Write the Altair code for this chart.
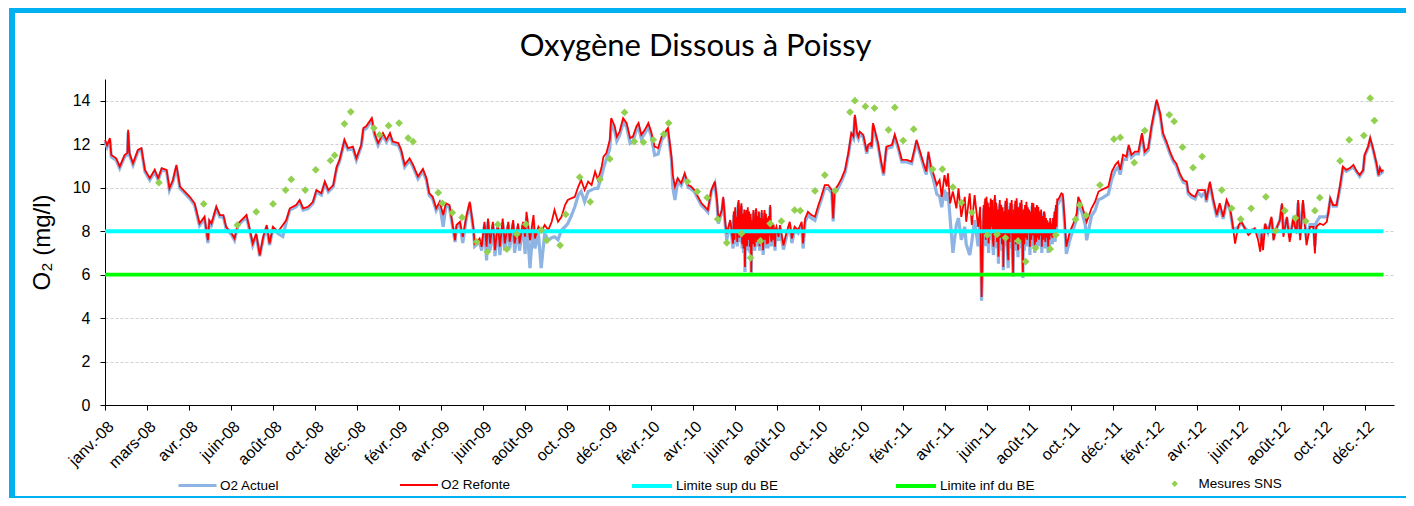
import json
import altair as alt
import pandas as pd

titre = "Oxygène Dissous à Poissy"
titre_y = "O₂ (mg/l)"
debut = "2008-01-01"
fin_axe = "2013-01-15"

# ---- jours depuis le 1er janvier 2008 (relevés journaliers en été 2010 et 2011)
jours_2008_2010 = [
    0, 3, 7, 9, 16, 21, 28, 32, 33, 35,
    40, 47, 52, 57, 64, 71, 76, 81, 88, 92,
    97, 102, 107, 114, 121, 128, 135, 142, 147, 149,
    152, 159, 164, 169, 173, 181, 185, 190, 197, 202,
    207, 211, 216, 221, 226, 231, 235, 240, 247, 254,
    259, 264, 273, 278, 283, 290, 297, 302, 309, 314,
    319, 326, 331, 335, 342, 347, 354, 359, 366,
    369, 373, 381, 385, 390, 397, 402, 407, 411, 419,
    423, 428, 435, 440, 447, 454, 459, 463, 468, 473,
    478, 483, 487, 492, 497, 500, 502, 507, 511, 516,
    521, 526, 528, 533, 535, 538, 542, 545, 547, 550,
    554, 557, 561, 564, 568, 571, 576, 578, 583, 585,
    590, 592, 597, 600, 602, 607, 612, 614, 619, 623,
    628, 633, 638, 642, 647, 652, 657, 661, 666, 671,
    676, 680, 685, 690, 695, 700, 704, 709, 712, 716,
    721, 723, 728,
    731, 735, 740, 745, 750, 754, 759, 762, 766, 771,
    776, 780, 785, 790, 795, 799, 804, 809, 811, 814,
    818, 823, 828, 833, 837, 842, 847, 852, 857, 861,
    866, 871, 874, 876, 881, 883, 886, 888, 893, 897,
]
jours_ete_2010 = list(range(898, 960))
jours_2010_2011 = [
    962, 964, 969, 973, 978, 981, 985, 990, 995, 997,
    1000, 1004, 1009, 1014, 1019, 1023, 1028, 1033, 1038, 1040,
    1042, 1047, 1052, 1057, 1062, 1066, 1069, 1071, 1074, 1076,
    1078, 1083, 1088, 1090, 1093, 1095,
    1097, 1100, 1104, 1109, 1112, 1116, 1124, 1128, 1133, 1138,
    1145, 1152, 1157, 1159, 1164, 1169, 1173, 1176, 1180, 1183,
    1188, 1192, 1195, 1199, 1202, 1204, 1207, 1211, 1216, 1219,
    1223, 1228, 1230, 1235, 1238, 1242, 1247, 1250, 1252, 1254,
]
jours_ete_2011 = list(range(1255, 1362))
jours_2011_2012 = [
    1366, 1368, 1371,
    1373, 1378, 1383, 1388, 1390, 1395, 1400, 1402, 1409, 1414,
    1419, 1423, 1428, 1433, 1438, 1443, 1447, 1450, 1454, 1459,
    1462, 1466, 1471, 1476, 1481, 1485, 1490, 1495, 1502, 1507,
    1511, 1516, 1521, 1526, 1530, 1535, 1540, 1545, 1547, 1552,
    1557, 1561, 1566, 1571, 1573, 1578, 1583, 1588, 1592, 1597,
    1602, 1607, 1611, 1614, 1619, 1623, 1628, 1633, 1638, 1642,
    1647, 1650, 1652, 1654, 1657, 1661, 1666, 1669, 1673, 1678,
    1681, 1683, 1688, 1692, 1697, 1702, 1704, 1707, 1711, 1716,
    1721, 1726, 1728, 1730, 1735, 1740, 1745, 1747, 1750, 1754,
    1759, 1764, 1768, 1773, 1778, 1783, 1788, 1792, 1797, 1799,
    1804, 1807, 1811, 1816, 1819, 1821, 1823, 1826,
]

# ---- O2 Refonte (mg/l)
refonte_2008_2010 = [
    12.2, 11.95, 12.28, 11.5, 11.35, 10.97, 11.5, 11.6, 12.66, 11.58,
    11.12, 11.74, 11.82, 10.82, 10.43, 10.82, 10.43, 10.9, 10.82, 9.97,
    10.35, 11.05, 10.05, 9.82, 9.58, 9.28, 8.35, 8.66, 7.58, 8.5,
    8.35, 9.12, 8.74, 8.74, 8.2, 7.89, 7.66, 8.35, 8.58, 8.74,
    8.05, 7.43, 7.89, 6.89, 7.74, 8.28, 7.43, 8.2, 7.97, 8.28,
    8.51, 9.05, 9.2, 9.43, 9.05, 9.12, 9.35, 9.89, 9.74, 10.28,
    9.89, 10.12, 10.97, 11.28, 12.2, 11.82, 11.89, 11.35, 11.97,
    12.74, 12.82, 13.2, 12.51, 12.05, 12.51, 12.2, 12.51, 12.12, 12.05,
    11.74, 11.05, 11.35, 11.05, 10.51, 10.86, 10.45, 9.75, 9.58, 9.05,
    9.35, 8.74, 9.28, 9.2, 8.2, 7.58, 8.28, 8.43, 7.74, 8.66,
    9.35, 8.2, 7.43, 7.58, 7.66, 7.28, 8.43, 7.28, 8.58, 7.43,
    8.43, 7.12, 8.35, 7.28, 8.58, 7.43, 8.43, 7.51, 8.51, 7.43,
    8.35, 7.43, 8.43, 7.74, 8.89, 7.58, 8.74, 7.66, 8.2, 7.97,
    8.28, 8.05, 8.43, 8.97, 8.43, 8.66, 9.2, 9.43, 9.51, 9.58,
    10.05, 10.35, 9.89, 10.28, 10.12, 10.74, 10.35, 10.9, 11.43, 11.58,
    12.2, 13.2, 12.82,
    12.35, 12.58, 13.2, 12.97, 12.28, 12.35, 12.82, 12.97, 12.43, 12.66,
    12.97, 12.58, 11.89, 11.82, 12.35, 12.51, 12.74, 11.43, 10.58, 10.05,
    10.43, 10.2, 10.66, 10.12, 10.05, 9.89, 9.58, 9.28, 9.12, 8.97,
    9.89, 10.28, 9.43, 8.51, 8.97, 9.58, 8.35, 7.89, 8.51, 7.43,
]
refonte_ete_2010 = [
    8.9, 7.6, 9.1, 7.9, 8.66, 7.5, 9.2, 9.43, 7.7, 8.05,
    9.0, 9.28, 7.4, 8.8, 7.2, 9.0, 6.35, 8.6, 8.97, 7.3,
    9.1, 7.6, 8.9, 7.28, 8.8, 6.12, 8.5, 7.4, 8.97, 7.6,
    7.28, 8.8, 9.05, 7.5, 8.7, 7.58, 8.9, 7.3, 8.6, 7.7,
    8.97, 7.9, 7.12, 8.5, 8.97, 7.6, 8.8, 7.4, 8.6, 7.43,
    8.7, 7.8, 9.2, 7.7, 7.51, 8.4, 7.6, 8.3, 7.8, 7.28,
    8.1, 8.2,
]
refonte_2010_2011 = [
    7.74, 8.28, 7.35, 7.89, 8.43, 7.66, 8.2, 8.05, 8.43, 7.43,
    8.58, 8.89, 8.74, 8.66, 9.2, 9.58, 10.12, 10.12, 9.89, 8.58,
    9.89, 10.12, 10.43, 10.82, 11.66, 12.51, 12.35, 13.35, 12.51, 12.35,
    12.58, 12.43, 11.66, 11.97, 12.05, 11.89,
    12.97, 12.58, 12.05, 11.12, 10.66, 11.89, 11.97, 12.43, 11.89, 11.28,
    11.28, 11.2, 11.89, 12.2, 11.66, 11.12, 10.74, 11.66, 10.9, 10.66,
    10.12, 10.35, 9.58, 10.58, 10.05, 10.66, 9.28, 9.82, 9.05, 9.97,
    8.66, 9.58, 8.43, 9.74, 8.28, 9.66, 8.2, 9.12, 4.97, 8.05,
]
refonte_ete_2011 = [
    9.2, 7.8, 9.5, 7.6, 9.58, 8.0, 9.3, 7.43, 9.1, 7.9,
    9.5, 8.2, 9.43, 7.6, 7.28, 9.2, 9.66, 7.9, 9.3, 7.5,
    9.0, 6.82, 8.8, 9.43, 7.7, 9.2, 7.4, 9.1, 6.35, 8.9,
    7.6, 9.4, 7.8, 9.51, 7.3, 6.66, 9.0, 7.5, 9.3, 7.9,
    9.43, 7.2, 6.05, 9.0, 7.6, 9.4, 7.4, 9.51, 8.0, 7.12,
    9.1, 7.6, 9.3, 7.5, 9.43, 7.8, 6.12, 9.0, 7.4, 9.2,
    7.7, 9.35, 7.6, 9.1, 7.9, 9.0, 7.28, 8.9, 7.6, 9.3,
    7.8, 9.28, 7.9, 7.28, 9.1, 7.5, 9.2, 7.7, 9.12, 7.6,
    8.9, 7.8, 9.0, 7.28, 8.7, 7.6, 8.9, 8.82, 7.5, 8.6,
    7.7, 8.5, 7.28, 8.4, 7.6, 8.6, 7.8, 8.35, 7.7, 8.6,
    7.9, 8.9, 7.74, 9.2, 8.2, 9.5, 9.43,
]
refonte_2011_2012 = [
    9.74, 9.7, 8.35,
    7.28, 7.97, 8.35, 8.82, 9.58, 9.2, 8.66, 8.43, 9.05, 9.35,
    9.82, 9.89, 9.97, 10.05, 10.74, 11.05, 11.2, 10.82, 11.51, 11.43,
    11.97, 11.51, 11.66, 11.66, 12.51, 11.66, 11.82, 12.89, 14.05, 13.43,
    12.51, 12.12, 11.66, 11.28, 11.12, 10.66, 10.35, 10.28, 9.82, 9.66,
    9.58, 9.89, 9.89, 9.89, 9.43, 10.28, 9.43, 8.74, 9.28, 8.66,
    9.43, 9.05, 8.2, 7.43, 8.28, 8.43, 8.12, 7.82, 7.97, 8.12,
    7.58, 7.05, 7.89, 7.12, 8.35, 7.89, 8.66, 7.58, 8.12, 8.51,
    9.28, 7.74, 8.66, 7.51, 8.58, 7.89, 9.43, 7.58, 9.43, 7.35,
    8.2, 8.2, 6.97, 8.2, 8.35, 8.28, 8.43, 8.82, 9.51, 9.2,
    9.2, 10.12, 10.97, 10.82, 10.9, 11.05, 10.74, 10.58, 10.82, 11.51,
    11.89, 12.28, 11.82, 11.12, 10.58, 10.9, 10.74, 10.82,
]

# ---- O2 Actuel (mg/l)
actuel_2008_2010 = [
    12.12, 11.87, 12.2, 11.42, 11.27, 10.89, 11.42, 11.52, 12.55, 11.5,
    11.04, 11.66, 11.74, 10.74, 10.35, 10.74, 10.35, 10.82, 10.74, 9.89,
    10.27, 10.95, 9.97, 9.74, 9.5, 9.2, 8.25, 8.58, 7.45, 8.42,
    8.27, 9.04, 8.66, 8.66, 8.12, 7.81, 7.58, 8.27, 8.5, 8.66,
    7.97, 7.35, 7.81, 6.85, 7.66, 8.2, 7.35, 8.12, 7.89, 7.75,
    8.43, 8.97, 9.12, 9.35, 8.97, 9.04, 9.27, 9.81, 9.66, 10.2,
    9.81, 10.04, 10.89, 11.2, 12.12, 11.74, 11.81, 11.27, 11.89,
    12.64, 12.72, 13.1, 12.41, 11.95, 12.41, 12.1, 12.41, 12.02, 11.95,
    11.64, 10.95, 11.25, 10.95, 10.41, 10.76, 10.35, 9.65, 9.48, 8.95,
    9.25, 8.2, 9.18, 9.1, 8.1, 7.5, 8.18, 8.33, 7.45, 8.56,
    9.25, 8.1, 7.3, 7.45, 7.5, 7.1, 8.3, 6.65, 8.45, 7.1,
    8.3, 6.85, 8.2, 6.9, 8.4, 7.1, 8.3, 7.2, 8.35, 7.0,
    8.2, 7.1, 8.3, 6.95, 8.6, 6.3, 8.5, 7.2, 7.9, 6.3,
    7.9, 7.58, 7.7, 7.74, 7.6, 8.05, 8.2, 8.35, 8.7, 9.12,
    9.66, 9.82, 9.35, 9.82, 9.9, 9.97, 9.97, 10.5, 10.9, 11.3,
    11.8, 12.9, 12.6,
    12.15, 12.4, 13.0, 12.8, 12.05, 12.15, 12.65, 12.8, 12.25, 12.5,
    12.8, 12.4, 11.5, 11.55, 12.2, 12.35, 12.6, 11.3, 10.0, 9.43,
    10.3, 10.1, 10.55, 10.0, 9.95, 9.8, 9.48, 9.18, 9.02, 8.87,
    9.8, 10.18, 9.33, 8.35, 8.87, 9.48, 8.2, 7.6, 8.4, 7.2,
]
actuel_ete_2010 = [
    8.75, 7.4, 8.95, 7.7, 8.5, 7.3, 9.05, 9.3, 7.5, 7.85,
    8.85, 9.15, 7.2, 8.65, 7.0, 8.85, 6.12, 8.45, 8.85, 7.1,
    8.95, 7.4, 8.75, 7.0, 8.65, 6.05, 8.35, 7.2, 8.85, 7.4,
    7.1, 8.65, 8.95, 7.3, 8.55, 7.3, 8.75, 7.1, 8.45, 7.5,
    8.85, 7.7, 6.9, 8.35, 8.85, 7.4, 8.65, 7.2, 8.45, 7.2,
    8.55, 7.6, 9.1, 7.5, 7.3, 8.25, 7.4, 8.15, 7.6, 7.1,
    7.95, 8.1,
]
actuel_2010_2011 = [
    7.55, 8.15, 7.15, 7.7, 8.3, 7.45, 8.05, 7.9, 8.3, 7.2,
    8.43, 8.74, 8.6, 8.5, 9.05, 9.43, 9.97, 9.97, 9.75, 8.45,
    9.75, 9.97, 10.3, 10.7, 11.55, 12.4, 12.25, 13.25, 12.4, 12.25,
    12.48, 12.33, 11.56, 11.87, 11.95, 11.79,
    12.87, 12.48, 11.95, 11.02, 10.56, 11.79, 11.87, 12.33, 11.79, 11.18,
    11.18, 11.1, 11.79, 12.1, 11.56, 11.0, 10.6, 11.5, 10.7, 10.4,
    9.7, 9.6, 9.1, 9.9, 9.4, 9.8, 8.6, 7.0, 8.3, 8.6,
    7.6, 8.2, 7.4, 6.9, 7.5, 8.5, 7.3, 8.5, 4.8, 7.7,
]
actuel_ete_2011 = [
    9.05, 7.6, 9.35, 7.3, 9.4, 7.8, 9.15, 7.0, 8.95, 7.6,
    9.35, 8.0, 9.25, 7.3, 6.9, 9.05, 9.5, 7.6, 9.15, 7.2,
    8.85, 6.5, 8.65, 9.25, 7.4, 9.05, 7.1, 8.95, 6.2, 8.75,
    7.3, 9.25, 7.5, 9.35, 7.0, 6.3, 8.85, 7.2, 9.15, 7.6,
    9.25, 6.9, 5.9, 8.85, 7.3, 9.25, 7.1, 9.35, 7.7, 6.8,
    8.95, 7.3, 9.15, 7.2, 9.25, 7.5, 5.85, 8.85, 7.1, 9.05,
    7.4, 9.2, 7.3, 8.95, 7.6, 8.85, 6.9, 8.75, 7.3, 9.15,
    7.5, 9.1, 7.6, 7.0, 8.95, 7.2, 9.05, 7.4, 8.95, 7.3,
    8.75, 7.5, 8.85, 7.0, 8.55, 7.3, 8.75, 8.65, 7.2, 8.45,
    7.4, 8.35, 7.0, 8.25, 7.3, 8.45, 7.5, 8.2, 7.4, 8.45,
    7.6, 8.75, 7.5, 9.05, 7.9, 9.35, 9.25,
]
actuel_2011_2012 = [
    9.55, 9.5, 8.1,
    6.95, 7.6, 8.1, 8.6, 9.3, 8.9, 8.3, 7.58, 8.7, 8.95,
    9.45, 9.5, 9.6, 9.7, 10.4, 10.8, 10.95, 10.6, 11.3, 11.3,
    11.85, 11.4, 11.55, 11.55, 12.4, 11.56, 11.72, 12.79, 13.95, 13.33,
    12.41, 12.02, 11.56, 11.18, 11.02, 10.56, 10.25, 10.18, 9.72, 9.56,
    9.48, 9.79, 9.6, 9.79, 9.33, 10.18, 9.33, 8.64, 9.18, 8.56,
    9.33, 8.95, 8.1, 8.1, 8.2, 8.4, 8.15, 8.0, 8.05, 8.1,
    7.9, 7.7, 7.9, 7.6, 8.3, 7.95, 8.6, 7.8, 8.1, 8.5,
    9.2, 7.9, 8.6, 7.7, 8.5, 8.0, 9.3, 7.8, 9.3, 7.6,
    8.3, 8.3, 7.3, 8.4, 8.66, 8.66, 8.66, 8.82, 9.45, 9.15,
    9.15, 10.0, 10.85, 10.75, 10.85, 10.95, 10.7, 10.52, 10.76, 11.45,
    11.83, 12.22, 11.76, 11.06, 10.52, 10.84, 10.68, 10.76,
]

# ---- Mesures SNS
sns_jours = [
    77, 141, 189, 216, 240, 258, 266, 286, 301, 322,
    328, 342, 351, 384, 392, 405, 420, 433, 440, 476,
    482, 496, 510, 531, 546, 561, 574, 588, 601, 623,
    631, 650, 658, 678, 693, 707, 721, 742, 756, 769,
    783, 798, 805, 832, 846, 860, 875, 888, 909, 922,
    936, 950, 966, 985, 993, 1014, 1028, 1043, 1064, 1071,
    1086, 1099, 1119, 1128, 1140, 1155, 1182, 1196, 1211, 1223,
    1238, 1260, 1274, 1286, 1304, 1315, 1329, 1350, 1358, 1386,
    1392, 1401, 1421, 1441, 1450, 1470, 1485, 1520, 1527, 1539,
    1554, 1567, 1595, 1609, 1622, 1637, 1658, 1672, 1685, 1700,
    1715, 1728, 1735, 1764, 1777, 1798, 1807, 1813,
]
sns_valeurs = [
    10.23, 9.25, 8.28, 8.89, 9.25, 9.89, 10.38, 9.89, 10.82, 11.25,
    11.49, 12.94, 13.49, 12.74, 12.43, 12.85, 12.97, 12.28, 12.12, 9.77,
    9.28, 8.85, 8.63, 7.51, 7.05, 8.31, 7.17, 7.86, 8.32, 8.05,
    7.58, 7.35, 8.77, 10.48, 9.35, 10.38, 11.32, 13.46, 12.12, 12.09,
    12.2, 12.46, 12.97, 10.28, 9.82, 9.54, 8.55, 7.46, 7.89, 6.77,
    7.55, 8.35, 8.46, 8.97, 8.94, 9.85, 10.58, 9.86, 13.48, 14.0,
    13.74, 13.66, 12.66, 13.69, 12.17, 12.69, 10.85, 10.85, 10.02, 9.31,
    8.86, 7.82, 7.85, 7.69, 7.55, 6.6, 7.22, 7.18, 7.82, 8.54,
    9.2, 8.72, 10.12, 12.23, 12.31, 11.15, 12.63, 13.35, 13.05, 11.86,
    10.92, 11.43, 9.89, 9.05, 8.55, 9.05, 9.58, 8.02, 8.94, 8.6,
    8.46, 8.94, 9.54, 11.23, 12.2, 12.4, 14.12, 13.09,
]

limite_jours = [0, 1826]
limite_sup = [8, 8]
limite_inf = [6, 6]

tick_dates = [
    "2008-01-01", "2008-03-01", "2008-04-30", "2008-06-29", "2008-08-28",
    "2008-10-27", "2008-12-26", "2009-02-24", "2009-04-25", "2009-06-24",
    "2009-08-23", "2009-10-22", "2009-12-21", "2010-02-19", "2010-04-20",
    "2010-06-19", "2010-08-18", "2010-10-17", "2010-12-16", "2011-02-14",
    "2011-04-15", "2011-06-14", "2011-08-13", "2011-10-12", "2011-12-11",
    "2012-02-09", "2012-04-09", "2012-06-08", "2012-08-07", "2012-10-06",
    "2012-12-05",
]
tick_labels = [
    "janv.-08", "mars-08", "avr.-08", "juin-08", "août-08", "oct.-08",
    "déc.-08", "févr.-09", "avr.-09", "juin-09", "août-09", "oct.-09",
    "déc.-09", "févr.-10", "avr.-10", "juin-10", "août-10", "oct.-10",
    "déc.-10", "févr.-11", "avr.-11", "juin-11", "août-11", "oct.-11",
    "déc.-11", "févr.-12", "avr.-12", "juin-12", "août-12", "oct.-12",
    "déc.-12",
]
y_ticks = [0, 2, 4, 6, 8, 10, 12, 14]

noms = ["O2 Actuel", "O2 Refonte", "Limite sup du BE", "Limite inf du BE", "Mesures SNS"]
couleurs = ["#8DB4E2", "#FF0000", "#00FFFF", "#00FF00", "#92D050"]

jours = jours_2008_2010 + jours_ete_2010 + jours_2010_2011 + jours_ete_2011 + jours_2011_2012
o2_refonte = refonte_2008_2010 + refonte_ete_2010 + refonte_2010_2011 + refonte_ete_2011 + refonte_2011_2012
o2_actuel = actuel_2008_2010 + actuel_ete_2010 + actuel_2010_2011 + actuel_ete_2011 + actuel_2011_2012

assert len(jours) == len(o2_refonte) == len(o2_actuel), (len(jours), len(o2_refonte), len(o2_actuel))
assert len(sns_jours) == len(sns_valeurs)


def to_dates(d):
    idx = pd.Timestamp(debut) + pd.to_timedelta(d, unit="D")
    return list(idx.strftime("%Y-%m-%d"))


def ms(s):
    return int(pd.Timestamp(s).value // 10**6)


df_actuel = pd.DataFrame({"date": to_dates(jours), "valeur": o2_actuel, "serie": noms[0]})
df_refonte = pd.DataFrame({"date": to_dates(jours), "valeur": o2_refonte, "serie": noms[1]})
df_sup = pd.DataFrame({"date": to_dates(limite_jours), "valeur": limite_sup, "serie": noms[2]})
df_inf = pd.DataFrame({"date": to_dates(limite_jours), "valeur": limite_inf, "serie": noms[3]})
df_sns = pd.DataFrame({"date": to_dates(sns_jours), "valeur": sns_valeurs, "serie": noms[4]})

FONT = "Liberation Sans"

label_expr = "{}[indexof({}, utcFormat(datum.value, '%Y-%m-%d'))]".format(
    json.dumps(tick_labels, ensure_ascii=False), json.dumps(tick_dates)
)

x_enc = alt.X(
    "date:T",
    scale=alt.Scale(type="utc", domain=[ms(debut), ms(fin_axe)]),
    axis=alt.Axis(
        values=[ms(d) for d in tick_dates],
        labelExpr=label_expr,
        labelAngle=-45,
        labelFont=FONT,
        labelFontSize=16,
        labelColor="black",
        labelPadding=8,
        labelOverlap=False,
        tickColor="black",
        tickSize=5,
        domainColor="black",
        grid=False,
        title=None,
    ),
)
y_enc = alt.Y(
    "valeur:Q",
    scale=alt.Scale(domain=[0, 15], nice=False),
    axis=alt.Axis(
        values=y_ticks,
        labelFont=FONT,
        labelFontSize=16,
        labelColor="black",
        labelPadding=10,
        tickColor="black",
        tickSize=5,
        domainColor="black",
        grid=True,
        gridColor="#D0D0D0",
        gridDash=[3, 2],
        title=titre_y,
        titleFont=FONT,
        titleFontSize=24,
        titleFontWeight="normal",
        titleColor="black",
        titlePadding=18,
    ),
)


def legend(x, y, **kw):
    return alt.Legend(
        orient="none", legendX=x, legendY=y, title=None, padding=0,
        labelFont=FONT, labelFontSize=13.5, labelColor="black", **kw
    )


def color(i, leg):
    return alt.Color("serie:N", scale=alt.Scale(domain=[noms[i]], range=[couleurs[i]]), legend=leg)


l_actuel = alt.Chart(df_actuel).mark_line(strokeWidth=3.2).encode(
    x=x_enc, y=y_enc,
    color=color(0, legend(72, 386, symbolType="stroke", symbolSize=1444, symbolStrokeWidth=3, labelOffset=2)),
)
l_refonte = alt.Chart(df_refonte).mark_line(strokeWidth=1.8).encode(
    x=x_enc, y=y_enc,
    color=color(1, legend(294, 386, symbolType="stroke", symbolSize=1444, symbolStrokeWidth=2, labelOffset=2)),
)
l_sup = alt.Chart(df_sup).mark_line(strokeWidth=4).encode(
    x=x_enc, y=y_enc,
    color=color(2, legend(525, 385, symbolType="stroke", symbolSize=1600, symbolStrokeWidth=4, labelOffset=2)),
)
l_inf = alt.Chart(df_inf).mark_line(strokeWidth=3.6).encode(
    x=x_enc, y=y_enc,
    color=color(3, legend(789, 385, symbolType="stroke", symbolSize=1600, symbolStrokeWidth=4, labelOffset=2)),
)
p_sns = alt.Chart(df_sns).mark_point(shape="diamond", filled=True, size=60, opacity=1).encode(
    x=x_enc, y=y_enc,
    color=color(4, legend(1063, 398, symbolType="diamond", symbolSize=40, symbolOpacity=1, labelOffset=17)),
)

cadre = alt.Chart(pd.DataFrame({"k": [0]})).mark_rect(
    fillOpacity=0, stroke="#00B0F0", strokeWidth=6, clip=False
).encode(
    x=alt.value(-93), x2=alt.value(1320), y=alt.value(-69), y2=alt.value(420)
)

chart = (
    alt.layer(l_actuel, l_refonte, l_sup, l_inf, p_sns, cadre)
    .resolve_scale(color="independent")
    .properties(
        width=1289,
        height=326,
        title=alt.TitleParams(
            titre, font="Lato", fontSize=31, fontWeight="normal", color="black",
            anchor="middle", frame="group", dx=-54, dy=72, offset=16,
        ),
        autosize=alt.AutoSizeParams(type="none"),
        padding={"left": 97, "top": 71, "right": 12, "bottom": 93},
        background="white",
    )
    .configure_view(stroke=None)
)

chart.save("out.html", embed_options={"renderer": "svg", "actions": False})
